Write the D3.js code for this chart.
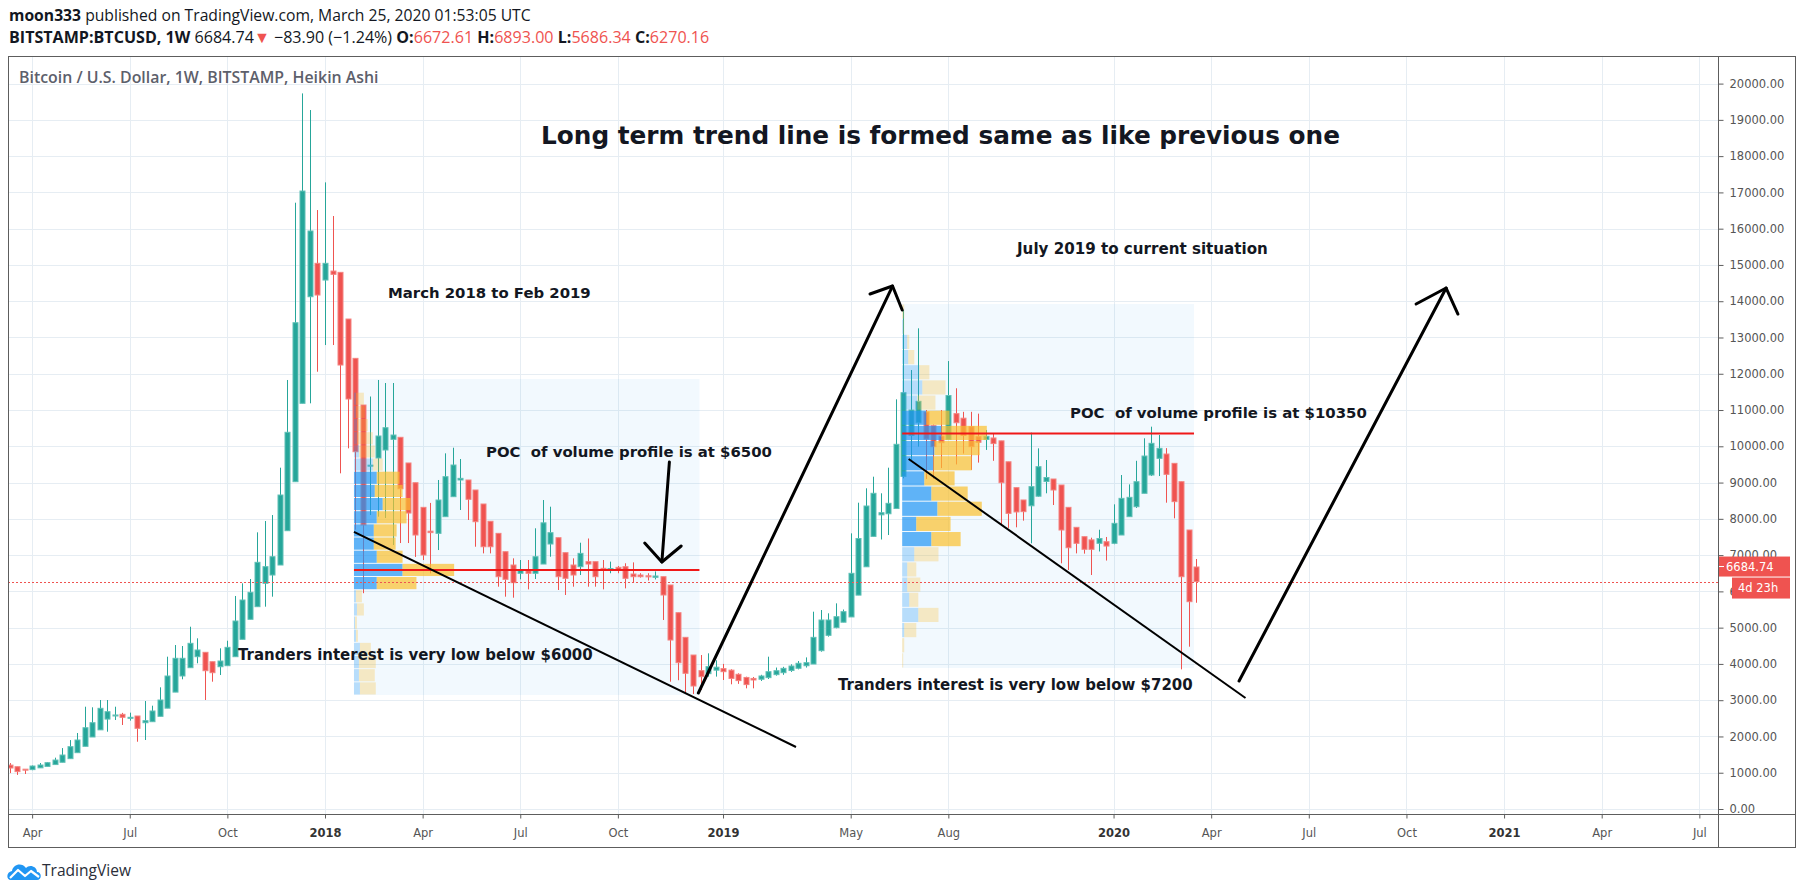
<!DOCTYPE html>
<html>
<head>
<meta charset="utf-8">
<script src="https://cdn.jsdelivr.net/npm/d3@7"></script>
<style>
  body { margin: 0; background: #fff; }
  svg { display: block; }
  text.note { white-space: pre; }
</style>
</head>
<body>
<svg id="chart" width="1804" height="894"></svg>
<script>
// weekly Heikin Ashi candles, first bar = week of 2017-03-13
const firstWeek = "2017-03-13";
const opens = [
  1210, 1166, 1098, 1086, 1135, 1174, 1225, 1288, 1388, 1553,
  1728, 1985, 2182, 2479, 2570, 2610, 2500, 2564, 2379, 2407,
  2555, 2780, 3223, 3667, 3896, 4199, 4320, 4061, 3923, 3951,
  4199, 4678, 5230, 5578, 6222, 6451, 6727, 7673, 9024, 11185,
  14124, 15045, 14584, 14832, 14796, 13509, 12425, 11138, 9460, 9677,
  9898, 10192, 10248, 9540, 8996, 8317, 7660, 7600, 8060, 8611,
  9071, 9071, 8795, 8409, 7932, 7600, 7094, 6727, 6498, 6570,
  6498, 6754, 7306, 7480, 7067, 6727, 6681, 6819, 6819, 6636,
  6600, 6663, 6681, 6479, 6451, 6430, 6387, 6405, 6176, 5412,
  4733, 4245, 3814, 3731, 3828, 3870, 3828, 3714, 3627, 3600,
  3578, 3622, 3704, 3758, 3818, 3880, 3950, 3997, 4365, 4788,
  5000, 5150, 5295, 5897, 6678, 7516, 8110, 8140, 8284, 9170,
  10297, 10650, 10945, 10570, 10280, 10190, 10900, 10775, 10540, 10265,
  10188, 10230, 10150, 9573, 8860, 8520, 8360, 8624, 9031, 9098,
  8933, 8317, 7766, 7508, 7420, 7325, 7370, 7325, 7554, 8060,
  8335, 8704, 9208, 9668, 9787, 9530, 9024, 7692, 6672.61
];
const highs = [
  1265, 1166, 1100, 1200, 1268, 1290, 1415, 1680, 1900, 2095,
  2820, 2804, 3005, 3005, 2820, 2650, 2656, 2564, 2977, 2848,
  3355, 4199, 4521, 4494, 5026, 4706, 4320, 4061, 4430, 4640,
  5873, 6222, 6341, 7628, 7940, 8105, 9410, 11828, 16716, 19730,
  19271, 16514, 17277, 16349, 14796, 13509, 12425, 11138, 11373, 11828,
  11745, 11745, 10248, 9540, 8996, 8317, 8439, 9071, 9806, 9961,
  9650, 9071, 8795, 8409, 7932, 7600, 7094, 6911, 6865, 6865,
  7739, 8519, 8335, 7480, 7067, 6911, 7342, 7458, 6819, 6865,
  6820, 6700, 6775, 6800, 6500, 6500, 6550, 6405, 6176, 5412,
  4733, 4245, 4245, 4292, 4100, 4000, 3851, 3741, 3648, 3640,
  3700, 4199, 3900, 3920, 3990, 4080, 4180, 5440, 5486, 5395,
  5670, 5500, 7600, 8445, 8842, 9162, 8704, 9410, 11295, 13757,
  12103, 13253, 11000, 10600, 11000, 12350, 11600, 10950, 10950, 10900,
  10450, 10350, 10150, 9573, 8860, 8520, 10376, 9944, 9622, 9098,
  8933, 8317, 7766, 7508, 7480, 7700, 7500, 8400, 9208, 8950,
  9600, 10220, 10541, 10311, 9950, 9530, 9024, 7692, 6893
];
const lows = [
  990, 940, 965, 1070, 1135, 1174, 1225, 1288, 1388, 1553,
  1728, 1985, 2182, 2131, 2454, 2316, 2436, 1855, 1902, 2407,
  2555, 2780, 3223, 3576, 3896, 4017, 3005, 3510, 3694, 3951,
  4199, 4678, 5230, 5578, 5578, 5854, 6727, 7673, 9024, 11185,
  11185, 12056, 12792, 12792, 9255, 9944, 7700, 5950, 8106, 8060,
  8023, 7278, 7333, 7333, 6950, 6865, 6498, 7140, 8060, 8611,
  8244, 7968, 7231, 7048, 7048, 6129, 5854, 5826, 6332, 6056,
  6341, 6754, 6956, 6038, 5900, 6129, 6451, 6129, 6129, 6056,
  6500, 6500, 6083, 6250, 6380, 6300, 6330, 5211, 3510, 3550,
  3190, 3170, 3281, 3648, 3650, 3557, 3438, 3450, 3327, 3327,
  3530, 3584, 3676, 3700, 3780, 3850, 3900, 3997, 4337, 4752,
  4982, 5150, 5295, 5897, 6678, 7516, 7430, 7554, 8284, 9116,
  9622, 9990, 9100, 9100, 9400, 10190, 9500, 9800, 9350, 9550,
  9900, 9600, 7830, 7750, 7766, 7950, 7325, 8611, 8704, 8381,
  6774, 6589, 7048, 7040, 6451, 7100, 6850, 7300, 7554, 8060,
  8300, 8704, 9180, 9180, 8445, 8014, 3850, 4475, 5686.34
];
const closes = [
  1130, 1030, 1075, 1185, 1213, 1277, 1350, 1488, 1718, 1902,
  2241, 2379, 2776, 2683, 2592, 2528, 2528, 2224, 2435, 2702,
  3005, 3667, 4155, 4155, 4568, 4384, 3813, 3758, 4080, 4457,
  5183, 5762, 5974, 6801, 6681, 6956, 8657, 10386, 13407, 17038,
  15936, 14171, 15045, 14741, 12241, 11304, 9851, 7830, 9480, 10284,
  10513, 10311, 8830, 8160, 7554, 7003, 7620, 8519, 9162, 9484,
  9116, 8538, 7921, 7231, 7231, 6405, 6332, 6240, 6589, 6498,
  6956, 7890, 7618, 6405, 6360, 6451, 7048, 6754, 6405, 6589,
  6630, 6590, 6360, 6405, 6405, 6400, 6424, 5900, 4659, 4034,
  3741, 3391, 3648, 3925, 3910, 3786, 3600, 3540, 3430, 3557,
  3667, 3786, 3813, 3878, 3942, 4017, 4034, 4733, 5211, 5211,
  5302, 5440, 6498, 7458, 8354, 8704, 8169, 8428, 10055, 11478,
  11000, 11240, 10200, 9990, 10100, 11400, 10650, 10300, 9990, 10110,
  10275, 10075, 8996, 8150, 8190, 8198, 8888, 9438, 9140, 8795,
  7692, 7204, 7325, 7160, 7160, 7458, 7250, 7876, 8565, 8593,
  9024, 9732, 10082, 9944, 9227, 8474, 6405, 5716, 6270.16
];

const priceTicks = d3.range(0, 20001, 1000);
const timeTickDates = ["2017-04-03", "2017-07-03", "2017-10-02", "2018-01-01", "2018-04-02", "2018-07-02",
  "2018-10-01", "2019-01-07", "2019-05-06", "2019-08-05", "2020-01-06", "2020-04-06", "2020-07-06",
  "2020-10-05", "2021-01-04", "2021-04-05", "2021-07-05"];
const timeTickLabels = ["Apr", "Jul", "Oct", "2018", "Apr", "Jul", "Oct", "2019", "May", "Aug",
  "2020", "Apr", "Jul", "Oct", "2021", "Apr", "Jul"];

// fixed range volume profiles (rows from the bottom price up)
const profile1Dates = ["2018-01-28", "2018-12-16"];
const profile1Prices = [3143, 11855];
const profile1Up =   [6, 5, 5, 6, 2, 1, 3, 2, 23, 49, 23, 20, 20, 23, 29, 21, 23, 19, 5, 3, 3, 2, 2, 0];
const profile1Down = [16, 16, 17, 11, 2, 2, 7, 6, 40, 52, 26, 22, 23, 30, 28, 28, 23, 10, 16, 16, 11, 9, 8, 0];
const profile1ValueArea = [8, 16];
const profile1Poc = 6590;

const profile2Dates = ["2019-06-23", "2020-03-21"];
const profile2Prices = [3887, 13923];
const profile2Up =   [0, 0, 2, 16, 7, 5, 5, 12, 29, 14, 35, 29, 22, 31, 32, 39, 24, 15, 20, 17, 6, 5, 1, 0];
const profile2Down = [1, 2, 12, 20, 9, 13, 9, 24, 29, 34, 44, 36, 30, 38, 45, 45, 23, 18, 23, 10, 6, 2, 1, 2];
const profile2ValueArea = [8, 16];
const profile2Poc = 10350;

const lastPrice = 6684.74;
const haClose = 6270.16;

// hand drawn lines [date, price]
const trendLines = [
  [["2018-01-28", 7640], ["2019-03-16", 1710]],
  [["2019-06-29", 9650], ["2020-05-08", 3060]]
];
const arrows = [
  { shaft: [["2018-12-15", 3198], ["2019-06-14", 14419]],
    head: [["2019-05-24", 14199], ["2019-06-14", 14419], ["2019-06-23", 13757]] },
  { shaft: [["2018-11-18", 9567], ["2018-11-11", 6810]],
    head: [["2018-10-26", 7334], ["2018-11-11", 6810], ["2018-11-29", 7251]] },
  { shaft: [["2020-05-02", 3529], ["2020-11-11", 14364]],
    head: [["2020-10-14", 13923], ["2020-11-11", 14364], ["2020-11-22", 13647]] }
];

const notes = [
  { text: "Long term trend line is formed same as like previous one", x: 541, y: 135, w: 799 },
  { text: "March 2018 to Feb 2019", x: 388, y: 293, w: 203 },
  { text: "July 2019 to current situation", x: 1017, y: 249, w: 251 },
  { text: "POC  of volume profile is at $6500", x: 486, y: 452, w: 286 },
  { text: "POC  of volume profile is at $10350", x: 1070, y: 413, w: 297 },
  { text: "Tranders interest is very low below $6000", x: 238, y: 655, w: 355 },
  { text: "Tranders interest is very low below $7200", x: 838, y: 685, w: 355 }
];

const plot = { left: 8, top: 56, right: 1718, bottom: 814, outerRight: 1795, outerBottom: 847 };
const upColor = '#26a69a', downColor = '#ef5350';
const parse = d3.utcParse('%Y-%m-%d');

const svg = d3.select('#chart');
svg.append('rect').attr('width', 1804).attr('height', 894).attr('fill', '#fff');

const x = d3.scaleUtc()
  .domain([parse("2018-01-01"), parse("2021-01-04")])
  .range([325, 325 + 157 * 7.51]);
const y = d3.scaleLinear().domain([0, 20000]).range([809, 83.6]);

function fitText(sel, width) {
  sel.each(function() {
    const len = this.getComputedTextLength();
    const t = d3.select(this);
    if (len > 0) t.attr('font-size', +t.attr('font-size') * width / len);
  });
}

svg.append('defs').append('clipPath').attr('id', 'plotClip')
  .append('rect')
    .attr('x', plot.left).attr('y', plot.top)
    .attr('width', plot.right - plot.left).attr('height', plot.bottom - plot.top);

// grid
const grid = svg.append('g').attr('stroke', '#e6edf3').attr('stroke-width', 1);
grid.selectAll('line.h').data(priceTicks).join('line')
  .attr('class', 'h')
  .attr('x1', plot.left).attr('x2', plot.right)
  .attr('y1', d => Math.round(y(d)) + 0.5).attr('y2', d => Math.round(y(d)) + 0.5);
grid.selectAll('line.v').data(timeTickDates).join('line')
  .attr('class', 'v')
  .attr('x1', d => Math.round(x(parse(d))) + 0.5).attr('x2', d => Math.round(x(parse(d))) + 0.5)
  .attr('y1', plot.top).attr('y2', plot.bottom);

const chart = svg.append('g').attr('clip-path', 'url(#plotClip)');

// profile backgrounds
const profiles = [
  { dates: profile1Dates, prices: profile1Prices, up: profile1Up, down: profile1Down, va: profile1ValueArea, poc: profile1Poc },
  { dates: profile2Dates, prices: profile2Prices, up: profile2Up, down: profile2Down, va: profile2ValueArea, poc: profile2Poc }
];
profiles.forEach(p => {
  chart.append('rect')
    .attr('x', x(parse(p.dates[0])))
    .attr('y', y(p.prices[1]))
    .attr('width', x(parse(p.dates[1])) - x(parse(p.dates[0])))
    .attr('height', y(p.prices[0]) - y(p.prices[1]))
    .attr('fill', 'rgba(33,150,243,0.06)');
});

// candles
const candles = opens.map((o, i) => ({
  date: d3.utcMonday.offset(parse(firstWeek), i),
  o, h: highs[i], l: lows[i], c: closes[i]
}));
const cg = chart.append('g');
cg.selectAll('line').data(candles).join('line')
  .attr('x1', d => Math.round(x(d.date)) + 0.5)
  .attr('x2', d => Math.round(x(d.date)) + 0.5)
  .attr('y1', d => y(d.h)).attr('y2', d => y(d.l))
  .attr('stroke', d => d.c >= d.o ? upColor : downColor)
  .attr('stroke-width', 1);
cg.selectAll('rect').data(candles).join('rect')
  .attr('x', d => Math.round(x(d.date)) - 2)
  .attr('width', 5)
  .attr('y', d => y(Math.max(d.o, d.c)))
  .attr('height', d => Math.max(1, y(Math.min(d.o, d.c)) - y(Math.max(d.o, d.c))))
  .attr('fill', d => d.c >= d.o ? upColor : downColor)
  .attr('stroke', d => d.c >= d.o ? '#5fc0b6' : '#f48481')
  .attr('stroke-width', 1);

// volume profile rows
profiles.forEach(p => {
  const x0 = x(parse(p.dates[0]));
  const boxW = x(parse(p.dates[1])) - x0;
  const totals = p.up.map((u, j) => u + p.down[j]);
  const w = d3.scaleLinear().domain([0, d3.max(totals)]).range([0, boxW * 0.29]);
  const step = (p.prices[1] - p.prices[0]) / p.up.length;
  const rows = p.up.map((u, j) => ({
    u, d: p.down[j], lo: p.prices[0] + j * step, hi: p.prices[0] + (j + 1) * step,
    inVa: j >= p.va[0] && j <= p.va[1]
  }));
  const g = chart.append('g');
  g.selectAll('rect.up').data(rows).join('rect')
    .attr('class', 'up')
    .attr('x', x0).attr('y', r => y(r.hi) + 0.5)
    .attr('width', r => w(r.u)).attr('height', r => y(r.lo) - y(r.hi) - 1)
    .attr('fill', r => r.inVa ? 'rgba(33,150,243,0.7)' : 'rgba(33,150,243,0.28)');
  g.selectAll('rect.down').data(rows).join('rect')
    .attr('class', 'down')
    .attr('x', r => x0 + w(r.u)).attr('y', r => y(r.hi) + 0.5)
    .attr('width', r => w(r.d)).attr('height', r => y(r.lo) - y(r.hi) - 1)
    .attr('fill', r => r.inVa ? 'rgba(251,192,45,0.7)' : 'rgba(251,192,45,0.28)');
  g.append('line')
    .attr('x1', x0).attr('x2', x0 + boxW)
    .attr('y1', y(p.poc)).attr('y2', y(p.poc))
    .attr('stroke', '#f01818').attr('stroke-width', 2);
});

// last price line
chart.append('line')
  .attr('x1', plot.left).attr('x2', plot.right)
  .attr('y1', Math.round(y(haClose)) + 0.5).attr('y2', Math.round(y(haClose)) + 0.5)
  .attr('stroke', downColor).attr('stroke-dasharray', '2,2');

// drawings
const line = d3.line().x(d => x(parse(d[0]))).y(d => y(d[1]));
chart.selectAll('path.trend').data(trendLines).join('path')
  .attr('class', 'trend')
  .attr('d', line).attr('fill', 'none')
  .attr('stroke', '#000').attr('stroke-width', 2);
arrows.forEach(a => {
  chart.append('path').attr('d', line(a.shaft))
    .attr('fill', 'none').attr('stroke', '#000').attr('stroke-width', 3).attr('stroke-linecap', 'round');
  chart.append('path').attr('d', line(a.head))
    .attr('fill', 'none').attr('stroke', '#000').attr('stroke-width', 3)
    .attr('stroke-linecap', 'round').attr('stroke-linejoin', 'round');
});

// notes
svg.selectAll('text.note').data(notes).join('text')
  .attr('class', 'note')
  .attr('x', d => d.x).attr('y', d => d.y)
  .attr('dominant-baseline', 'central')
  .attr('font-family', 'DejaVu Sans, Verdana, sans-serif')
  .attr('font-weight', 'bold')
  .attr('font-size', 14)
  .attr('fill', '#131722')
  .text(d => d.text)
  .each(function(d) { fitText(d3.select(this), d.w); });

// frame
const frame = svg.append('g').attr('stroke', '#5d5d5d').attr('stroke-width', 1).attr('shape-rendering', 'crispEdges');
frame.append('rect')
  .attr('x', plot.left + 0.5).attr('y', plot.top + 0.5)
  .attr('width', plot.outerRight - plot.left).attr('height', plot.outerBottom - plot.top)
  .attr('fill', 'none');
frame.append('line').attr('x1', plot.right + 0.5).attr('x2', plot.right + 0.5)
  .attr('y1', plot.top).attr('y2', plot.outerBottom);
frame.append('line').attr('x1', plot.left).attr('x2', plot.outerRight)
  .attr('y1', plot.bottom + 0.5).attr('y2', plot.bottom + 0.5);

// price axis
const yAxis = svg.append('g')
  .attr('transform', `translate(${plot.right + 0.5},0)`)
  .call(d3.axisRight(y).tickValues(priceTicks).tickFormat(d3.format('.2f')).tickSize(5).tickPadding(6));
yAxis.select('.domain').remove();
yAxis.selectAll('line').attr('stroke', '#5d5d5d');
yAxis.selectAll('text')
  .attr('font-family', 'DejaVu Sans, Verdana, sans-serif')
  .attr('font-size', 11.5).attr('fill', '#555');

// time axis
const xAxis = svg.append('g')
  .attr('transform', `translate(0,${plot.bottom + 0.5})`)
  .call(d3.axisBottom(x).tickValues(timeTickDates.map(parse))
    .tickFormat((d, i) => timeTickLabels[i]).tickSize(4));
xAxis.select('.domain').remove();
xAxis.selectAll('line').attr('stroke', '#5d5d5d');
xAxis.selectAll('text')
  .attr('y', 18).attr('dy', '0.35em')
  .attr('font-family', 'DejaVu Sans, Verdana, sans-serif')
  .attr('font-size', 11.5)
  .attr('fill', (d, i) => /^\d{4}$/.test(timeTickLabels[i]) ? '#333' : '#555')
  .attr('font-weight', (d, i) => /^\d{4}$/.test(timeTickLabels[i]) ? 'bold' : 'normal');

// price labels on the axis
const lblY = y(lastPrice);
svg.append('rect').attr('x', plot.right + 1).attr('y', lblY - 10).attr('width', 71).attr('height', 20)
  .attr('fill', downColor);
svg.append('line').attr('x1', plot.right + 1).attr('x2', plot.right + 6)
  .attr('y1', lblY).attr('y2', lblY).attr('stroke', '#fff');
svg.append('text').attr('x', plot.right + 8).attr('y', lblY).attr('dominant-baseline', 'central')
  .attr('font-family', 'DejaVu Sans, Verdana, sans-serif').attr('font-size', 11.5)
  .attr('fill', '#fff').text(d3.format('.2f')(lastPrice));
svg.append('rect').attr('x', plot.right + 14).attr('y', lblY + 11).attr('width', 58).attr('height', 21)
  .attr('fill', downColor);
svg.append('text').attr('x', plot.right + 20).attr('y', lblY + 21.5).attr('dominant-baseline', 'central')
  .attr('font-family', 'DejaVu Sans, Verdana, sans-serif').attr('font-size', 11.5)
  .attr('fill', '#fff').text('4d 23h');

// header
const h1 = svg.append('text').attr('x', 9).attr('y', 21)
  .attr('font-family', 'Open Sans, sans-serif').attr('font-size', 15).attr('fill', '#131722');
h1.append('tspan').attr('font-weight', 'bold').text('moon333');
h1.append('tspan').text(' published on TradingView.com, March 25, 2020 01:53:05 UTC');
fitText(h1, 522);

const h2 = svg.append('text').attr('x', 9).attr('y', 43)
  .attr('font-family', 'Open Sans, sans-serif').attr('font-size', 15).attr('fill', '#131722');
const parts = [
  ['BITSTAMP:BTCUSD, 1W', 'bold', '#131722'], [' 6684.74', 'normal', '#131722'], ['▼', 'normal', downColor],
  [' \u221283.90 (\u22121.24%) ', 'normal', '#131722'],
  ['O:', 'bold', '#131722'], ['6672.61', 'normal', downColor],
  [' H:', 'bold', '#131722'], ['6893.00', 'normal', downColor],
  [' L:', 'bold', '#131722'], ['5686.34', 'normal', downColor],
  [' C:', 'bold', '#131722'], ['6270.16', 'normal', downColor]
];
parts.forEach(p => h2.append('tspan').attr('font-weight', p[1]).attr('fill', p[2]).text(p[0]));
fitText(h2, 701);

const title = svg.append('text').attr('x', 19).attr('y', 77).attr('dominant-baseline', 'central')
  .attr('font-family', 'Open Sans, sans-serif').attr('font-weight', 600).attr('font-size', 14)
  .attr('fill', '#5d606b').text('Bitcoin / U.S. Dollar, 1W, BITSTAMP, Heikin Ashi');
fitText(title, 360);

// TradingView logo
const logo = svg.append('g').attr('transform', 'translate(7,861)');
logo.append('path')
  .attr('d', 'M4,19 C-1,19 -1,11 5,10 C6,3 15,1 19,7 C22,3 30,5 30,11 C35,11 35,19 30,19 Z')
  .attr('fill', '#2196f3');
logo.append('path')
  .attr('d', 'M3,17 L11,9 L18,15 L24,10 L32,16')
  .attr('fill', 'none').attr('stroke', '#fff').attr('stroke-width', 2.2).attr('stroke-linejoin', 'round');
const tv = svg.append('text').attr('x', 42).attr('y', 870).attr('dominant-baseline', 'central')
  .attr('font-family', 'Open Sans, sans-serif').attr('font-size', 16).attr('fill', '#2a2e39')
  .text('TradingView');
fitText(tv, 89);
</script>
</body>
</html>
